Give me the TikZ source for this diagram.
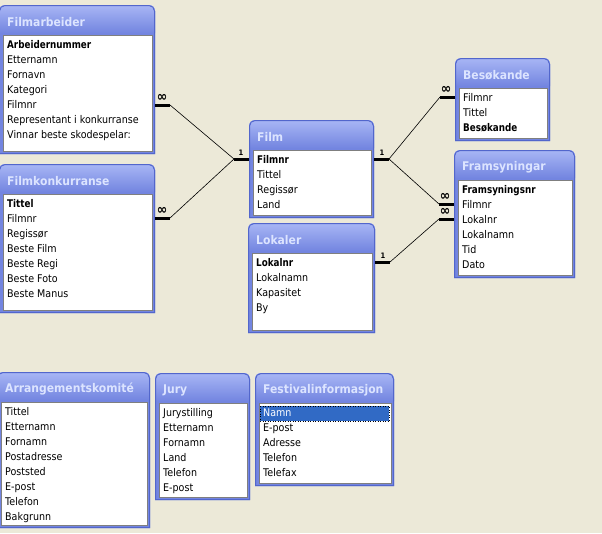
\documentclass[tikz,border=0pt]{standalone}
\usepackage{fontspec}
\setmainfont{DejaVu Sans}[FakeStretch=0.9]
\usetikzlibrary{calc}
\definecolor{bg}{HTML}{ECE9D8}
\definecolor{framebody}{HTML}{7385E0}
\definecolor{frametop}{HTML}{A8B6F5}
\definecolor{frameedge}{HTML}{5266CC}
\definecolor{titletxt}{HTML}{DCE4FF}
\definecolor{insetgray}{HTML}{7F7F7F}
\definecolor{selblue}{HTML}{316AC5}
\tikzset{
  tabbox/.style={inner sep=0pt, outer sep=0pt, anchor=north west},
  listbox/.style={inner sep=0pt, outer sep=0pt, anchor=north west, fill=white, draw=insetgray, line width=0.8pt},
  titletext/.style={inner sep=0pt, anchor=west, text=titletxt, font=\fontsize{12}{14}\selectfont\bfseries},
  rowtext/.style={inner sep=0pt, anchor=west, text height=8pt, text depth=2.5pt, font=\fontsize{10.6}{12}\selectfont},
  relend/.style={line width=3pt},
  relline/.style={line width=0.6pt},
  onelbl/.style={inner sep=0pt, font=\fontsize{7.5}{8}\selectfont\bfseries},
  manylbl/.style={inner sep=0pt, font=\fontsize{14}{14}\selectfont\bfseries},
  selrow/.style={fill=selblue, draw=black, dotted, line width=0.5pt}
}
\newcommand\dbframe[6]{%
  \node[tabbox, minimum width={(#4)-(#2)}, minimum height={(#5)-(#3)}] (#1) at (#2,#3) {};
  \fill[framebody] (#1.south west) -- ($(#1.north west)+(0,6)$) arc[start angle=180,end angle=90,radius=6pt] -- ($(#1.north east)+(-6,0)$) arc[start angle=90,end angle=0,radius=6pt] -- (#1.south east) -- cycle;
  \shade[top color=frametop, bottom color=framebody] ($(#1.north west)+(0,28)$) -- ($(#1.north west)+(0,6)$) arc[start angle=180,end angle=90,radius=6pt] -- ($(#1.north east)+(-6,0)$) arc[start angle=90,end angle=0,radius=6pt] -- ($(#1.north east)+(0,28)$) -- cycle;
  \draw[frameedge, line width=1pt] ($(#1.south west)+(0.5,-0.5)$) -- ($(#1.north west)+(0.5,6)$) arc[start angle=180,end angle=90,radius=5.5pt] -- ($(#1.north east)+(-6,0.5)$) arc[start angle=90,end angle=0,radius=5.5pt] -- ($(#1.south east)+(-0.5,-0.5)$) -- cycle;
  \node[listbox, minimum width={(#4)-(#2)-7}, minimum height={(#5)-(#3)-33}] (#1-list) at ($(#1.north west)+(4,30)$) {};
  \node[titletext] (#1-title) at ($(#1.north west)+(8,17)$) {#6};
}
\newcommand\dbrow[3]{\node[rowtext] (#1-r#2) at ($(#1-list.north west)+(4,{11+15*#2})$) {#3};}
\newcommand\dbkey[3]{\node[rowtext] (#1-r#2) at ($(#1-list.north west)+(4,{11+15*#2})$) {\scalebox{0.92}[1]{\bfseries #3}};}
\begin{document}
\begin{tikzpicture}[x=1pt,y=-1pt]
\useasboundingbox (0,0) rectangle (602,533);
\fill[bg] (0,0) rectangle (602,533);
\begin{scope}
\clip (0,0) rectangle (602,533);
% Filmarbeider
\dbframe{fa}{-1}{5}{155}{154}{Filmarbeider}
\dbkey{fa}{0}{Arbeidernummer}
\dbrow{fa}{1}{Etternamn}
\dbrow{fa}{2}{Fornavn}
\dbrow{fa}{3}{Kategori}
\dbrow{fa}{4}{Filmnr}
\dbrow{fa}{5}{Representant i konkurranse}
\dbrow{fa}{6}{Vinnar beste skodespelar:}
% Filmkonkurranse
\dbframe{fk}{-1}{164}{155}{313}{Filmkonkurranse}
\dbkey{fk}{0}{Tittel}
\dbrow{fk}{1}{Filmnr}
\dbrow{fk}{2}{Regissør}
\dbrow{fk}{3}{Beste Film}
\dbrow{fk}{4}{Beste Regi}
\dbrow{fk}{5}{Beste Foto}
\dbrow{fk}{6}{Beste Manus}
% Film
\dbframe{film}{249}{120}{374}{218}{Film}
\dbkey{film}{0}{Filmnr}
\dbrow{film}{1}{Tittel}
\dbrow{film}{2}{Regissør}
\dbrow{film}{3}{Land}
% Lokaler
\dbframe{lok}{248}{223}{375}{333}{Lokaler}
\dbkey{lok}{0}{Lokalnr}
\dbrow{lok}{1}{Lokalnamn}
\dbrow{lok}{2}{Kapasitet}
\dbrow{lok}{3}{By}
% Besøkande
\dbframe{bes}{455}{58}{550}{141}{Besøkande}
\dbrow{bes}{0}{Filmnr}
\dbrow{bes}{1}{Tittel}
\dbkey{bes}{2}{Besøkande}
% Framsyningar
\dbframe{fram}{454}{150}{575}{278}{Framsyningar}
\dbkey{fram}{0}{Framsyningsnr}
\dbrow{fram}{1}{Filmnr}
\dbrow{fram}{2}{Lokalnr}
\dbrow{fram}{3}{Lokalnamn}
\dbrow{fram}{4}{Tid}
\dbrow{fram}{5}{Dato}
% Arrangementskomite
\dbframe{arr}{-3}{372}{150}{528}{Arrangementskomité}
\dbrow{arr}{0}{Tittel}
\dbrow{arr}{1}{Etternamn}
\dbrow{arr}{2}{Fornamn}
\dbrow{arr}{3}{Postadresse}
\dbrow{arr}{4}{Poststed}
\dbrow{arr}{5}{E-post}
\dbrow{arr}{6}{Telefon}
\dbrow{arr}{7}{Bakgrunn}
% Jury
\dbframe{jury}{155}{373}{250}{500}{Jury}
\dbrow{jury}{0}{Jurystilling}
\dbrow{jury}{1}{Etternamn}
\dbrow{jury}{2}{Fornamn}
\dbrow{jury}{3}{Land}
\dbrow{jury}{4}{Telefon}
\dbrow{jury}{5}{E-post}
% Festivalinformasjon
\dbframe{fest}{255}{373}{394}{486}{Festivalinformasjon}
\path (fest-list.north west) ++(1,{11-8}) coordinate (selA);
\path (fest-list.north east) ++(-2,{11+7}) coordinate (selB);
\draw[selrow] (selA) rectangle (selB);
\node[rowtext, text=white] (fest-r0) at ($(fest-list.north west)+(4,11)$) {Namn};
\dbrow{fest}{1}{E-post}
\dbrow{fest}{2}{Adresse}
\dbrow{fest}{3}{Telefon}
\dbrow{fest}{4}{Telefax}
% relationship ends
\coordinate (faA) at ($(fa.east |- fa-r4)+(0,-1)$);
\coordinate (faB) at ($(faA)+(15,0)$);
\coordinate (fkA) at ($(fk.east |- fk-r1)+(0,-2)$);
\coordinate (fkB) at ($(fkA)+(15,0)$);
\coordinate (filmLA) at ($(film.west |- film-r0)+(0,-2)$);
\coordinate (filmLB) at ($(filmLA)+(-15,0)$);
\coordinate (filmRA) at ($(film.east |- film-r0)+(0,-2)$);
\coordinate (filmRB) at ($(filmRA)+(15,0)$);
\coordinate (lokA) at ($(lok.east |- lok-r0)+(0,-2)$);
\coordinate (lokB) at ($(lokA)+(15,0)$);
\coordinate (besA) at ($(bes.west |- bes-r0)+(0,-2)$);
\coordinate (besB) at ($(besA)+(-15,0)$);
\coordinate (fr1A) at ($(fram.west |- fram-r1)+(0,-2)$);
\coordinate (fr1B) at ($(fr1A)+(-15,0)$);
\coordinate (fr2A) at ($(fram.west |- fram-r2)+(0,-2)$);
\coordinate (fr2B) at ($(fr2A)+(-15,0)$);
\draw[relend] (faA) -- (faB);
\draw[relend] (fkA) -- (fkB);
\draw[relend] (filmLB) -- (filmLA);
\draw[relend] (filmRA) -- (filmRB);
\draw[relend] (lokA) -- (lokB);
\draw[relend] (besB) -- (besA);
\draw[relend] (fr1B) -- (fr1A);
\draw[relend] (fr2B) -- (fr2A);
\node[manylbl] (faM) at ($(faA)+(7,-7)$) {∞};
\node[manylbl] (fkM) at ($(fkA)+(7,-7)$) {∞};
\node[onelbl] (filmL1) at ($(filmLB)+(7,-6)$) {1};
\node[onelbl] (filmR1) at ($(filmRA)+(8,-6)$) {1};
\node[onelbl] (lok1) at ($(lokA)+(8,-6)$) {1};
\node[manylbl] (besM) at ($(besB)+(6,-7)$) {∞};
\node[manylbl] (fr1M) at ($(fr1B)+(6,-7)$) {∞};
\node[manylbl] (fr2M) at ($(fr2B)+(6,-7)$) {∞};
\draw[relline] (faB) -- (filmLB);
\draw[relline] (fkB) -- (filmLB);
\draw[relline] (filmRB) -- (besB);
\draw[relline] (filmRB) -- (fr1B);
\draw[relline] (lokB) -- (fr2B);
\end{scope}
\end{tikzpicture}
\end{document}
